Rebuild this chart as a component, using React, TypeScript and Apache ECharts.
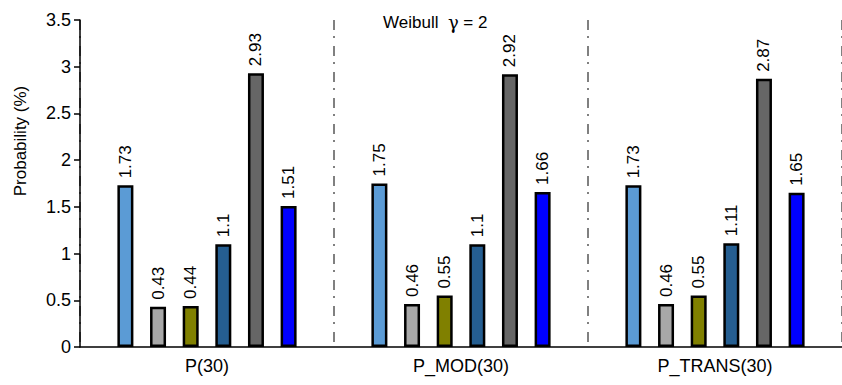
import React, { useEffect, useRef } from "react";
import * as echarts from "echarts";

const categories = ["P(30)", "P_MOD(30)", "P_TRANS(30)"];
const s1 = [1.73, 1.75, 1.73];
const s2 = [0.43, 0.46, 0.46];
const s3 = [0.44, 0.55, 0.55];
const s4 = [1.1, 1.1, 1.11];
const s5 = [2.93, 2.92, 2.87];
const s6 = [1.51, 1.66, 1.65];
const seriesData = [s1, s2, s3, s4, s5, s6];
const colors = ["#5B9BD5", "#A8A8A8", "#808000", "#255E91", "#666666", "#0000FF"];
const yTicks = { min: 0, max: 3.5, interval: 0.5 };

const FONT = "Liberation Sans, Arial, sans-serif";

export default function App() {
  const ref = useRef<HTMLDivElement>(null);
  useEffect(() => {
    if (!ref.current) return;
    const chart = echarts.init(ref.current, null, { renderer: "svg" });
    chart.setOption({
      animation: false,
      textStyle: { fontFamily: FONT },
      title: {
        text: "{a|Weibull  }{g|γ}{a| = 2}",
        left: 378,
        top: 8,
        textStyle: {
          fontWeight: "normal",
          rich: {
            a: { fontFamily: FONT, fontSize: 17, color: "#000", fontWeight: "normal" },
            g: { fontFamily: "DejaVu Serif, serif", fontSize: 18, color: "#000", fontWeight: "normal" },
          },
        },
      },
      graphic: [
        {
          type: "text",
          x: 20,
          y: 141,
          rotation: Math.PI / 2,
          style: {
            text: "Probability (%)",
            fontFamily: FONT,
            fontSize: 17,
            fill: "#000",
            align: "center",
            verticalAlign: "middle",
          },
        },
      ],
      grid: { left: 80, right: -10.5, top: 20, bottom: 38, containLabel: false },
      xAxis: {
        type: "category",
        data: categories,
        boundaryGap: true,
        axisLine: { show: true, lineStyle: { color: "#000", width: 1.5 } },
        axisTick: { show: false },
        axisLabel: { color: "#000", fontSize: 18, fontFamily: FONT, margin: 10 },
        splitLine: {
          show: true,
          lineStyle: { color: "#808080", width: 2, type: [10, 6, 2, 8] },
        },
      },
      yAxis: {
        type: "value",
        min: yTicks.min,
        max: yTicks.max,
        interval: yTicks.interval,
        axisLine: { show: true, lineStyle: { color: "#000", width: 1.5 } },
        axisTick: { show: true, length: 6, lineStyle: { color: "#000", width: 1.5 } },
        axisLabel: { color: "#000", fontSize: 18, fontFamily: FONT, margin: 9 },
        splitLine: { show: false },
      },
      series: seriesData.map((d, i) => ({
        type: "bar",
        data: d,
        barWidth: 16,
        barGap: "104%",
        itemStyle: { color: colors[i], borderColor: "#000", borderWidth: 2.5 },
        label: {
          show: true,
          position: "top",
          rotate: 90,
          align: "left",
          verticalAlign: "middle",
          distance: 7,
          fontSize: 17,
          fontFamily: FONT,
          color: "#000",
          formatter: (p: any) => String(p.value),
        },
      })),
    });
    return () => chart.dispose();
  }, []);
  return (
    <div
      ref={ref}
      style={{ position: "absolute", left: 0, top: 0, width: 842, height: 385 }}
    />
  );
}
